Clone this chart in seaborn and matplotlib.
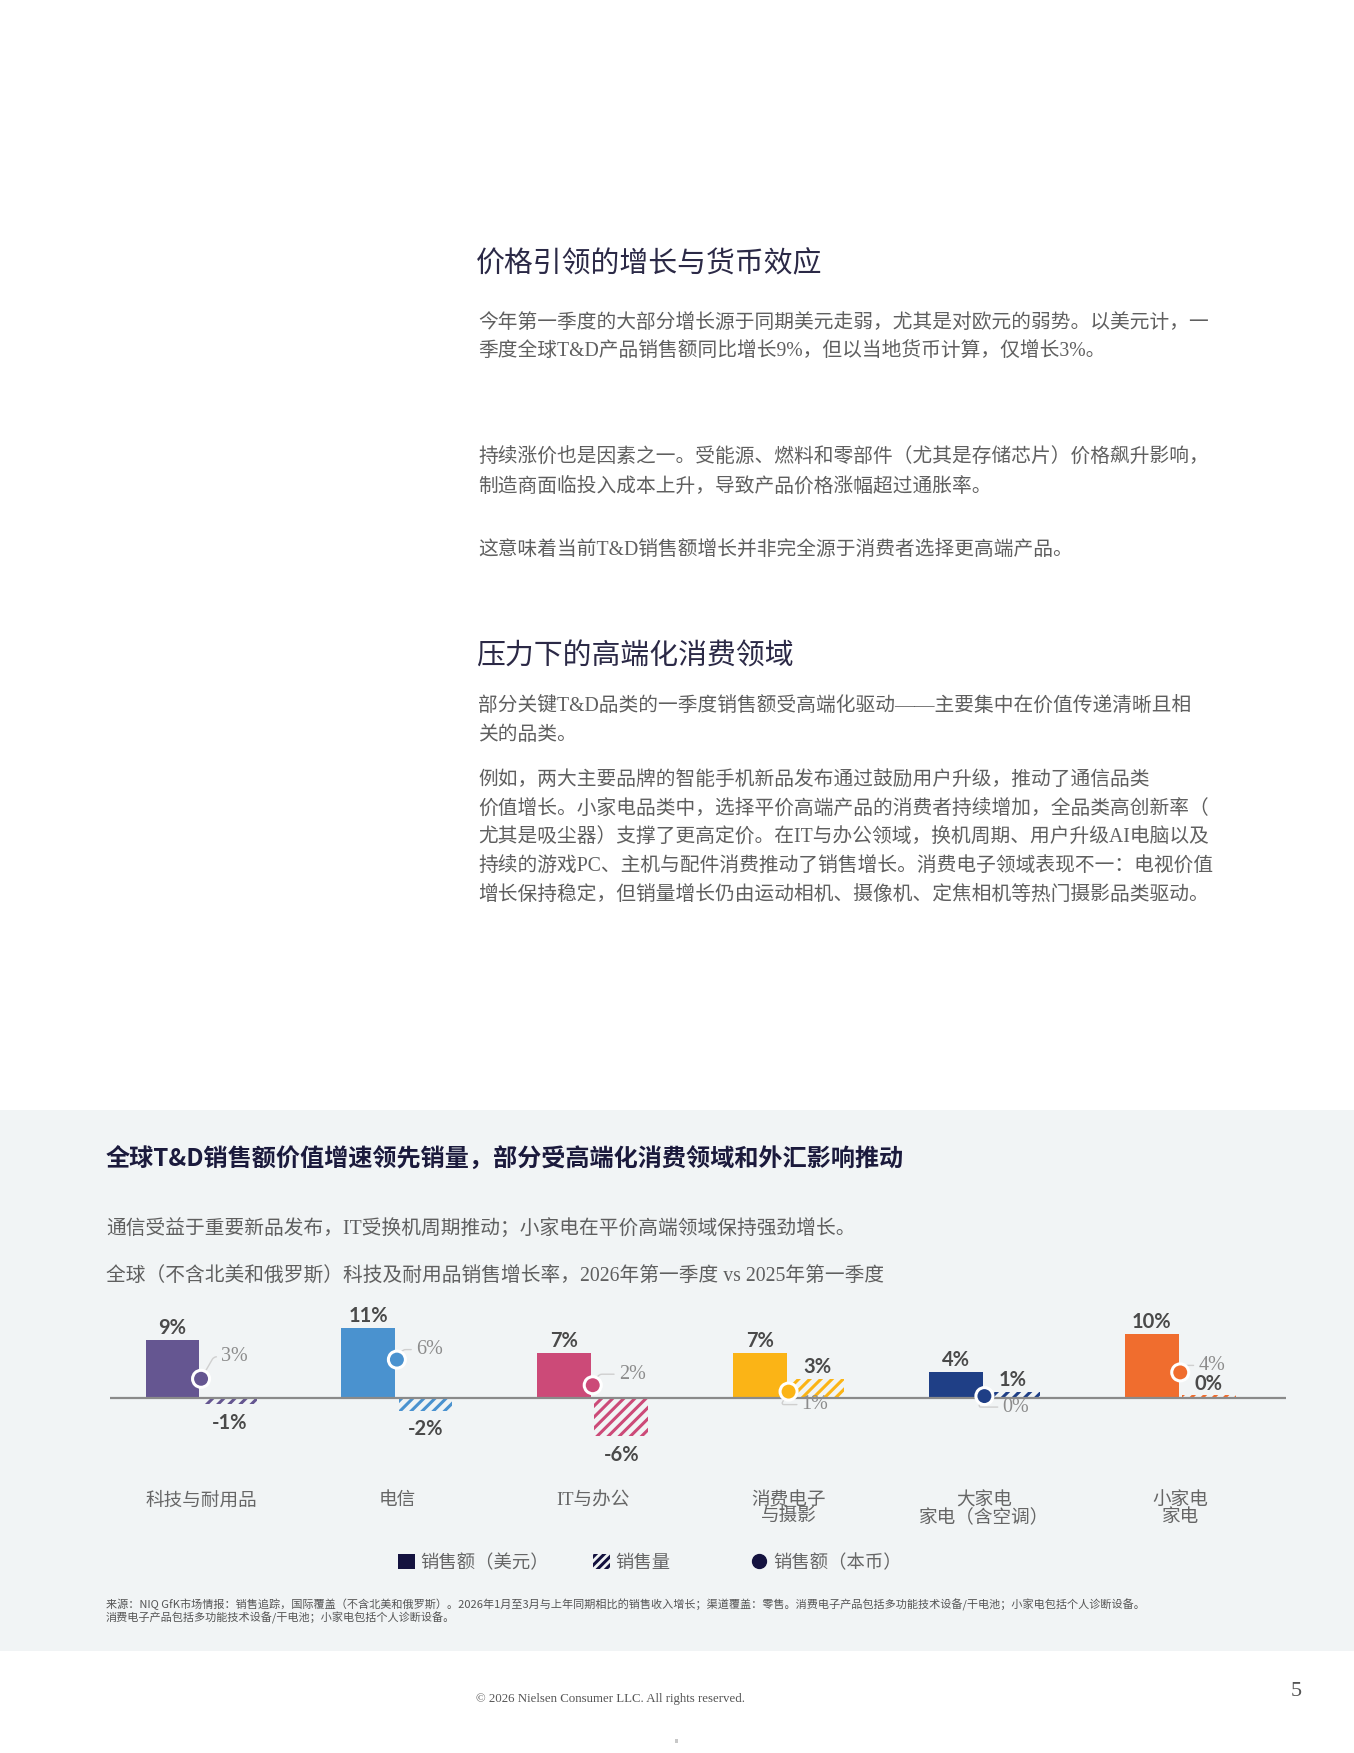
import seaborn as sns
import pandas as pd
import matplotlib.pyplot as plt
from matplotlib.patches import Patch, Rectangle
from matplotlib.lines import Line2D

sns.set_theme(style="white")
plt.rcParams['font.family'] = ['Noto Sans CJK SC', 'DejaVu Sans']
plt.rcParams['hatch.linewidth'] = 2.2

# ---- data ----
categories = ["科技与耐用品", "电信", "IT与办公", "消费电子\n与摄影", "大家电\n家电（含空调）", "小家电\n家电"]
value_usd = [9, 11, 7, 7, 4, 10]        # 销售额（美元）
volume = [-1, -2, -6, 3, 1, 0.4]         # 销售量
value_local = [3, 6, 2, 1, 0.3, 4]      # 销售额（本币）
cat_colors = ["#655691", "#4a92cf", "#cc4a78", "#fbb416", "#1f3f86", "#f06d2e"]
series_names = ["销售额（美元）", "销售量", "销售额（本币）"]

# label offsets for local-currency dots (px, left edge of label from dot)
dot_label_off = [(20, 22), (19, 10), (26, 11), (13, -13), (18, -11), (18, 7)]

W, H = 1354, 1753
NAVY = "#14123f"
GREY_TXT = "#5f5f5f"
SERIF_CJK = ['Liberation Serif', 'Noto Sans CJK SC', 'DejaVu Sans']


def fx(x):
    return x / W


def fy(y):
    return 1 - y / H


fig = plt.figure(figsize=(W / 100, H / 100), dpi=100)
fig.patch.set_facecolor("white")

# grey panel
fig.patches.append(Rectangle((0, fy(1651)), 1, (1651 - 1110) / H,
                             transform=fig.transFigure, facecolor="#f1f4f5",
                             edgecolor="none", zorder=-5))

# ---- text section ----
title1 = "价格引领的增长与货币效应"
para1 = ["今年第一季度的大部分增长源于同期美元走弱，尤其是对欧元的弱势。以美元计，一",
         "季度全球T&D产品销售额同比增长9%，但以当地货币计算，仅增长3%。"]
para2 = ["持续涨价也是因素之一。受能源、燃料和零部件（尤其是存储芯片）价格飙升影响，",
         "制造商面临投入成本上升，导致产品价格涨幅超过通胀率。"]
para3 = ["这意味着当前T&D销售额增长并非完全源于消费者选择更高端产品。"]
title2 = "压力下的高端化消费领域"
para4 = ["部分关键T&D品类的一季度销售额受高端化驱动——主要集中在价值传递清晰且相",
         "关的品类。"]
para5 = ["例如，两大主要品牌的智能手机新品发布通过鼓励用户升级，推动了通信品类",
         "价值增长。小家电品类中，选择平价高端产品的消费者持续增加，全品类高创新率（",
         "尤其是吸尘器）支撑了更高定价。在IT与办公领域，换机周期、用户升级AI电脑以及",
         "持续的游戏PC、主机与配件消费推动了销售增长。消费电子领域表现不一：电视价值",
         "增长保持稳定，但销量增长仍由运动相机、摄像机、定焦相机等热门摄影品类驱动。"]

fig.text(fx(476), fy(265), title1, fontsize=20.8, color="#2b2946", va="center",
         family=SERIF_CJK, fontweight="light")
fig.text(fx(476), fy(657), title2, fontsize=20.8, color="#2b2946", va="center",
         family=SERIF_CJK, fontweight="light")

for lines, y0 in [(para1, 323), (para2, 458), (para3, 550), (para4, 707), (para5, 780)]:
    for i, ln in enumerate(lines):
        fig.text(fx(478), fy(y0 + i * 29), ln, fontsize=14.2, color=GREY_TXT,
                 va="center", family=SERIF_CJK, fontweight="light")

# ---- chart heading ----
fig.text(fx(106), fy(1160), "全球T&D销售额价值增速领先销量，部分受高端化消费领域和外汇影响推动",
         fontsize=17.4, fontweight="heavy", color="#1b1a3c", va="center")
fig.text(fx(106), fy(1230), "通信受益于重要新品发布，IT受换机周期推动；小家电在平价高端领域保持强劲增长。",
         fontsize=14.2, color=GREY_TXT, va="center", family=SERIF_CJK, fontweight="light")
fig.text(fx(106), fy(1277), "全球（不含北美和俄罗斯）科技及耐用品销售增长率，2026年第一季度 vs 2025年第一季度",
         fontsize=14.2, color=GREY_TXT, va="center", family=SERIF_CJK, fontweight="light")

# ---- chart ----
ylo, yhi = -11, 15
ppu = 6.4
ax_top = 1398 - yhi * ppu
ax_bot = 1398 - ylo * ppu
ax = fig.add_axes([fx(110), fy(ax_bot), (1286 - 110) / W, (ax_bot - ax_top) / H])
ax.set_facecolor("none")

df = pd.DataFrame({
    "cat": categories * 2,
    "metric": [series_names[0]] * 6 + [series_names[1]] * 6,
    "val": value_usd + volume,
})
sns.barplot(data=df, x="cat", y="val", hue="metric", hue_order=series_names[:2],
            width=0.585, gap=0.06, legend=False, ax=ax, zorder=2)

for bar, c in zip(ax.containers[0], cat_colors):
    bar.set_facecolor(c)
    bar.set_edgecolor("none")
for bar, c in zip(ax.containers[1], cat_colors):
    bar.set_facecolor("none")
    bar.set_edgecolor(c)
    bar.set_linewidth(0)
    bar.set_hatch("///")

ax.axhline(0, color="#8a8a8a", lw=1.6, zorder=3)

# value labels
LBL = dict(fontsize=14.5, fontweight="bold", color="#4a4a4a", family=['Lato', 'DejaVu Sans'])
for bar, v in zip(ax.containers[0], value_usd):
    ax.annotate(f"{v:.0f}%", (bar.get_x() + bar.get_width() / 2, v),
                xytext=(0, 1.5), textcoords="offset points", ha="center", va="bottom", **LBL)
for bar, v in zip(ax.containers[1], volume):
    if v < 0:
        ax.annotate(f"{v:.0f}%", (bar.get_x() + bar.get_width() / 2, v),
                    xytext=(0, -6), textcoords="offset points", ha="center", va="top", **LBL)
    else:
        ax.annotate(f"{v:.0f}%", (bar.get_x() + bar.get_width() / 2, v),
                    xytext=(0, 1), textcoords="offset points", ha="center", va="bottom", **LBL)

# local currency dots
xs = list(range(len(categories)))
sns.scatterplot(x=xs, y=value_local, hue=categories, palette=cat_colors, s=150,
                edgecolor="white", linewidth=2.2, legend=False, ax=ax, zorder=5)
for x, v, (dx, dy) in zip(xs, value_local, dot_label_off):
    ax.annotate(f"{v:.0f}%", (x, v), xytext=(dx * 0.72, dy * 0.72), textcoords="offset points",
                ha="left", va="center", fontsize=14.5, color="#8c8c8c",
                family=['Liberation Serif', 'DejaVu Sans'],
                arrowprops=dict(arrowstyle="-", color="#cfcfcf", lw=1,
                                connectionstyle="angle,angleA=0,angleB=60,rad=3",
                                shrinkA=1, shrinkB=1))

ax.set_xlim(-0.465, 5.54)
ax.set_ylim(ylo, yhi)
ax.set_xlabel("")
ax.set_ylabel("")
ax.set_yticks([])
ax.set_xticks(xs)
ax.set_xticklabels(categories, fontsize=13.4, color="#666666", linespacing=1.0,
                   family=SERIF_CJK, fontweight="light")
ax.tick_params(axis="x", length=0, pad=17)
sns.despine(ax=ax, left=True, bottom=True)

# legend, one entry each (uneven spacing in the original)
handles = [Patch(facecolor=NAVY, edgecolor="none"),
           Patch(facecolor="none", edgecolor=NAVY, hatch="////", lw=0),
           Line2D([], [], marker="o", ls="none", color=NAVY, markersize=10)]
leg_x = [398, 593, 751]
for h, name, lx in zip(handles, series_names, leg_x):
    fig.legend([h], [name], loc="center left", bbox_to_anchor=(fx(lx), fy(1563)),
               frameon=False, handlelength=0.9, handleheight=0.9, handletextpad=0.3,
               borderpad=0, borderaxespad=0,
               prop=dict(family=SERIF_CJK, size=13.2, weight="light"), labelcolor="#666666")

# footnote
note = ["来源：NIQ GfK市场情报：销售追踪，国际覆盖（不含北美和俄罗斯）。2026年1月至3月与上年同期相比的销售收入增长；渠道覆盖：零售。消费电子产品包括多功能技术设备/干电池；小家电包括个人诊断设备。",
        "消费电子产品包括多功能技术设备/干电池；小家电包括个人诊断设备。"]
for i, ln in enumerate(note):
    fig.text(fx(106), fy(1605 + i * 13), ln, fontsize=8.0, color="#555555", va="center")

# page footer
fig.text(fx(611), fy(1699), "© 2026 Nielsen Consumer LLC. All rights reserved.", fontsize=9.3,
         color="#555555", ha="center", va="center", family=['Liberation Serif', 'DejaVu Sans'])
fig.text(fx(1296), fy(1692), "5", fontsize=16, color="#555555", ha="center", va="center",
         family=['Liberation Serif', 'DejaVu Sans'])
fig.patches.append(Rectangle((fx(675), fy(1743)), 3 / W, 4 / H, transform=fig.transFigure,
                             facecolor="#c8c8c8", edgecolor="none"))

fig.savefig("out.png", dpi=100)
